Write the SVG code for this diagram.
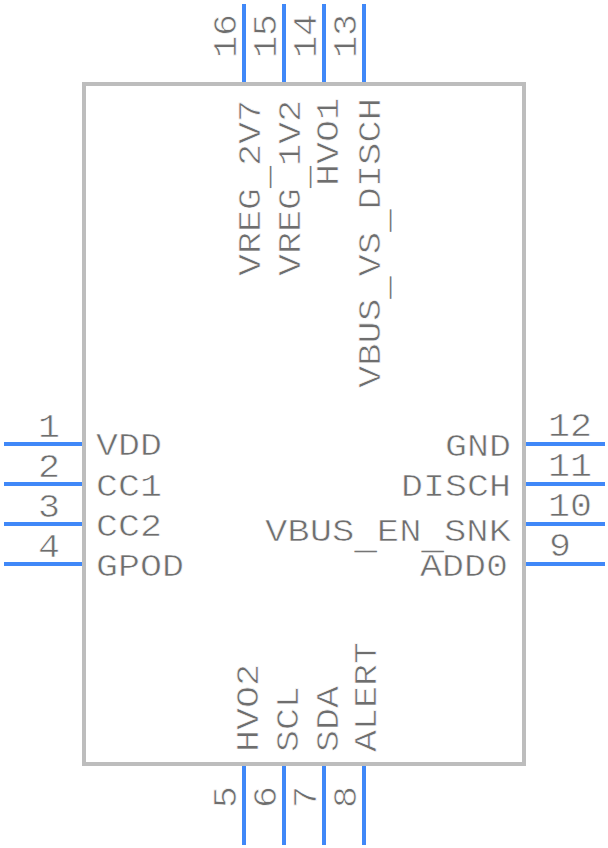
<svg xmlns="http://www.w3.org/2000/svg" width="608" height="848" viewBox="0 0 608 848">
<style>
.p{stroke:#4088f8;stroke-width:4;fill:none}
text{font-family:"Liberation Mono",monospace;font-size:32px;fill:#6e6e6e;stroke:#fff;stroke-width:.6px}
.n{font-size:33px}
.u{stroke:none;fill:#757575}
</style>
<rect width="608" height="848" fill="#fff"/>
<g id="connectors">
<path class="p" d="M4 444H84M4 484H84M4 524H84M4 564H84M524 444H605M524 484H605M524 524H605M524 564H605M244 4V84M284 4V84M324 4V84M364 4V84M244 764V845M284 764V845M324 764V845M364 764V845"/>
</g>
<g id="body"><rect x="84" y="84" width="440" height="680" fill="none" stroke="#bdbdbd" stroke-width="4"/></g>
<g id="left">
<text x="96" y="455" textLength="66" lengthAdjust="spacingAndGlyphs">VDD</text><text x="96" y="496" textLength="66" lengthAdjust="spacingAndGlyphs">CC1</text><text x="96" y="536" textLength="66" lengthAdjust="spacingAndGlyphs">CC2</text><text x="96" y="576" textLength="88" lengthAdjust="spacingAndGlyphs">GPOD</text>
<text class="n" x="38" y="437" textLength="22" lengthAdjust="spacingAndGlyphs">1</text><text class="n" x="38" y="477" textLength="22" lengthAdjust="spacingAndGlyphs">2</text><text class="n" x="38" y="517" textLength="22" lengthAdjust="spacingAndGlyphs">3</text><text class="n" x="38" y="557" textLength="22" lengthAdjust="spacingAndGlyphs">4</text>
</g>
<g id="right">
<text x="445" y="456" textLength="66" lengthAdjust="spacingAndGlyphs">GND</text><text x="401" y="496" textLength="110" lengthAdjust="spacingAndGlyphs">DISCH</text><text x="265" y="541" textLength="246" lengthAdjust="spacingAndGlyphs">VBUS<tspan class="u" dy="8">_</tspan><tspan dy="-8">EN</tspan><tspan class="u" dy="8">_</tspan><tspan dy="-8">SNK</tspan></text><text x="420" y="576" textLength="88" lengthAdjust="spacingAndGlyphs">ADD0</text>
<text class="n" x="548" y="436" textLength="44" lengthAdjust="spacingAndGlyphs">12</text><text class="n" x="548" y="476" textLength="44" lengthAdjust="spacingAndGlyphs">11</text><text class="n" x="548" y="516" textLength="44" lengthAdjust="spacingAndGlyphs">10</text><text class="n" x="549" y="556" textLength="22" lengthAdjust="spacingAndGlyphs">9</text>
</g>
<g id="top">
<text class="n" transform="translate(236 58) rotate(-90)" textLength="44" lengthAdjust="spacingAndGlyphs">16</text><text class="n" transform="translate(276 58) rotate(-90)" textLength="44" lengthAdjust="spacingAndGlyphs">15</text><text class="n" transform="translate(316 58) rotate(-90)" textLength="44" lengthAdjust="spacingAndGlyphs">14</text><text class="n" transform="translate(356 58) rotate(-90)" textLength="44" lengthAdjust="spacingAndGlyphs">13</text>
<text transform="translate(260 276) rotate(-90)" textLength="176" lengthAdjust="spacingAndGlyphs">VREG<tspan class="u" dy="8">_</tspan><tspan dy="-8">2V7</tspan></text><text transform="translate(300 276) rotate(-90)" textLength="176" lengthAdjust="spacingAndGlyphs">VREG<tspan class="u" dy="8">_</tspan><tspan dy="-8">1V2</tspan></text><text transform="translate(338 186) rotate(-90)" textLength="88" lengthAdjust="spacingAndGlyphs">HVO1</text><text transform="translate(380 388) rotate(-90)" textLength="290" lengthAdjust="spacingAndGlyphs">VBUS<tspan class="u" dy="8">_</tspan><tspan dy="-8">VS</tspan><tspan class="u" dy="8">_</tspan><tspan dy="-8">DISCH</tspan></text>
</g>
<g id="bottom">
<text class="n" transform="translate(236 808) rotate(-90)" textLength="22" lengthAdjust="spacingAndGlyphs">5</text><text class="n" transform="translate(276 808) rotate(-90)" textLength="22" lengthAdjust="spacingAndGlyphs">6</text><text class="n" transform="translate(316 808) rotate(-90)" textLength="22" lengthAdjust="spacingAndGlyphs">7</text><text class="n" transform="translate(356 808) rotate(-90)" textLength="22" lengthAdjust="spacingAndGlyphs">8</text>
<text transform="translate(258 752) rotate(-90)" textLength="88" lengthAdjust="spacingAndGlyphs">HVO2</text><text transform="translate(298 752) rotate(-90)" textLength="66" lengthAdjust="spacingAndGlyphs">SCL</text><text transform="translate(338 752) rotate(-90)" textLength="66" lengthAdjust="spacingAndGlyphs">SDA</text><text transform="translate(376 752) rotate(-90)" textLength="110" lengthAdjust="spacingAndGlyphs">ALERT</text>
</g>
</svg>
